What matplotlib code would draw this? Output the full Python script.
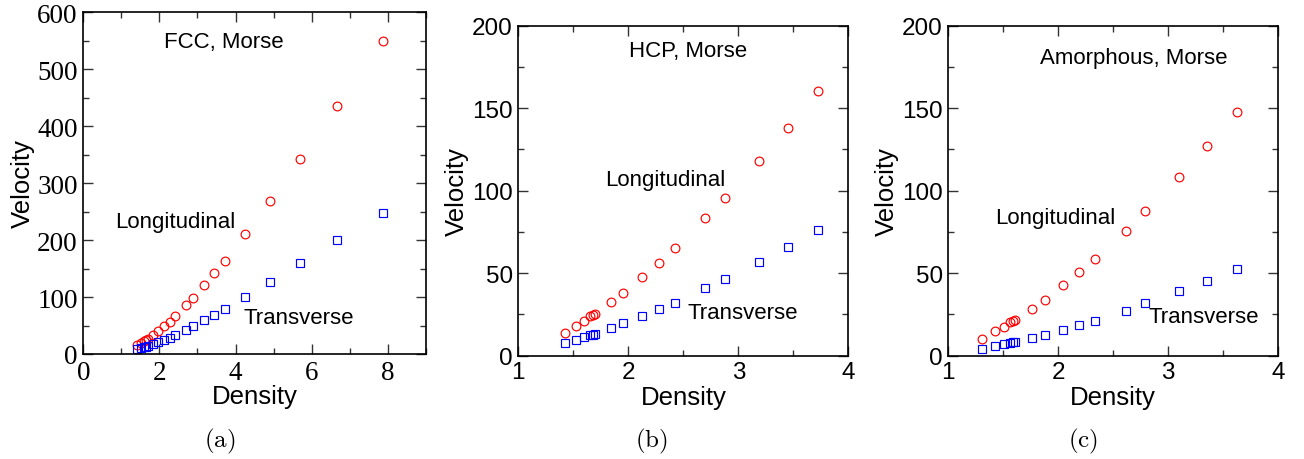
import matplotlib
matplotlib.use("Agg")
import matplotlib.pyplot as plt
from matplotlib.ticker import MultipleLocator

# ---------------- data ----------------
fcc_density = [7.87, 6.67, 5.70, 4.91, 4.26, 3.72, 3.44, 3.18, 2.88, 2.69,
               2.42, 2.27, 2.12, 1.96, 1.83, 1.69, 1.65, 1.59, 1.52, 1.42]
fcc_long = [549, 435, 342, 269, 210, 164, 142, 121, 98, 85.5,
            67, 57, 49, 40, 33, 27, 25, 22, 19, 15]
fcc_trans = [248, 200, 159, 127, 100.7, 79, 69, 60, 48.6, 42.7,
             34, 28.7, 25, 20.5, 18, 14, 13, 12, 10.5, 8]

hcp_density = [3.72, 3.45, 3.185, 2.88, 2.70, 2.42, 2.276, 2.127, 1.955, 1.84,
               1.694, 1.676, 1.65, 1.594, 1.524, 1.424]
hcp_long = [160.2, 138.2, 118, 95.8, 83.2, 65, 56, 47.5, 38.2, 32.3,
            25.5, 24.8, 23.8, 20.8, 18, 13.7]
hcp_trans = [76.2, 66, 56.8, 46.7, 40.8, 32.1, 28.1, 23.8, 19.6, 16.6,
             13.1, 12.8, 12.5, 11.1, 9.7, 7.7]

amo_density = [3.627, 3.355, 3.094, 2.79, 2.612, 2.336, 2.19, 2.045, 1.876, 1.76,
               1.61, 1.585, 1.56, 1.506, 1.427, 1.306]
amo_long = [147.5, 126.9, 108.1, 87.5, 75.8, 58.8, 50.5, 42.6, 33.9, 28.5,
            21.8, 21.0, 20.2, 17.6, 14.9, 10.3]
amo_trans = [52.7, 45.5, 39.0, 31.7, 27.3, 21.2, 18.6, 15.6, 12.5, 10.5,
             8.3, 8.0, 7.7, 6.9, 5.7, 4.2]

titles = ["FCC, Morse", "HCP, Morse", "Amorphous, Morse"]
captions = ["(a)", "(b)", "(c)"]

# ---------------- figure ----------------
plt.rcParams['mathtext.fontset'] = 'cm'
fig = plt.figure(figsize=(13.04, 4.6), dpi=100)

sans = "Liberation Sans"
serif = "Liberation Serif"

axA = fig.add_axes([0.0639, 0.2283, 0.2626, 0.7428])
axB = fig.add_axes([0.3975, 0.2246, 0.2531, 0.7174])
axC = fig.add_axes([0.7272, 0.2246, 0.2531, 0.7174])

panels = [
    (axA, fcc_density, fcc_long, fcc_trans, (0, 9), (0, 600), 2, 1, 100, 50, serif),
    (axB, hcp_density, hcp_long, hcp_trans, (1, 4), (0, 200), 1, 0.5, 50, 25, sans),
    (axC, amo_density, amo_long, amo_trans, (1, 4), (0, 200), 1, 0.5, 50, 25, sans),
]

for ax, d, vl, vt, xl, yl, xmaj, xmin, ymaj, ymin, tickfont in panels:
    ax.plot(d, vl, linestyle='none', marker='o', markersize=6.3,
            markerfacecolor='none', markeredgecolor='#ff0000', markeredgewidth=0.85)
    ax.plot(d, vt, linestyle='none', marker='s', markersize=6.0,
            markerfacecolor='none', markeredgecolor='#0000ff', markeredgewidth=0.85)
    ax.set_xlim(*xl)
    ax.set_ylim(*yl)
    ax.xaxis.set_major_locator(MultipleLocator(xmaj))
    ax.xaxis.set_minor_locator(MultipleLocator(xmin))
    ax.yaxis.set_major_locator(MultipleLocator(ymaj))
    ax.yaxis.set_minor_locator(MultipleLocator(ymin))
    ax.tick_params(which='both', direction='in', top=True, right=True,
                   color='#333333', width=1.0)
    ax.tick_params(which='major', length=7.5, pad=4)
    ax.tick_params(which='minor', length=4)
    for s in ax.spines.values():
        s.set_linewidth(1.2)
    for lab in ax.get_xticklabels() + ax.get_yticklabels():
        lab.set_fontfamily(tickfont)
        lab.set_fontsize(19.5 if tickfont == serif else 17.5)
    ax.set_xlabel("Density", fontsize=18.5, family=sans)
    ax.set_ylabel("Velocity", fontsize=18.5, family=sans)

axA.xaxis.set_label_coords(0.50, -0.088)
axA.yaxis.set_label_coords(-0.140, 0.503)
for ax in (axB, axC):
    ax.xaxis.set_label_coords(0.50, -0.088)
    ax.yaxis.set_label_coords(-0.150, 0.50)

# annotations
tk = dict(fontsize=16, family=sans, ha='center', va='center')
axA.text(3.69, 549, titles[0], **tk)
axA.text(2.41, 232, "Longitudinal", **tk)
axA.text(5.65, 64, "Transverse", **tk)

axB.text(2.545, 184.8, titles[1], **tk)
axB.text(2.333, 107, "Longitudinal", **tk)
axB.text(3.04, 26.3, "Transverse", **tk)

axC.text(2.69, 180.8, titles[2], **tk)
axC.text(1.97, 83.9, "Longitudinal", **tk)
axC.text(3.325, 23.8, "Transverse", **tk)

# captions
for xc, cap in zip([220 / 1304, 651 / 1304, 1083 / 1304], captions):
    fig.text(xc, 1 - 441 / 460, r"$\mathrm{" + cap + "}$", fontsize=18,
             ha='center', va='center')

fig.savefig("out.png", dpi=100)
